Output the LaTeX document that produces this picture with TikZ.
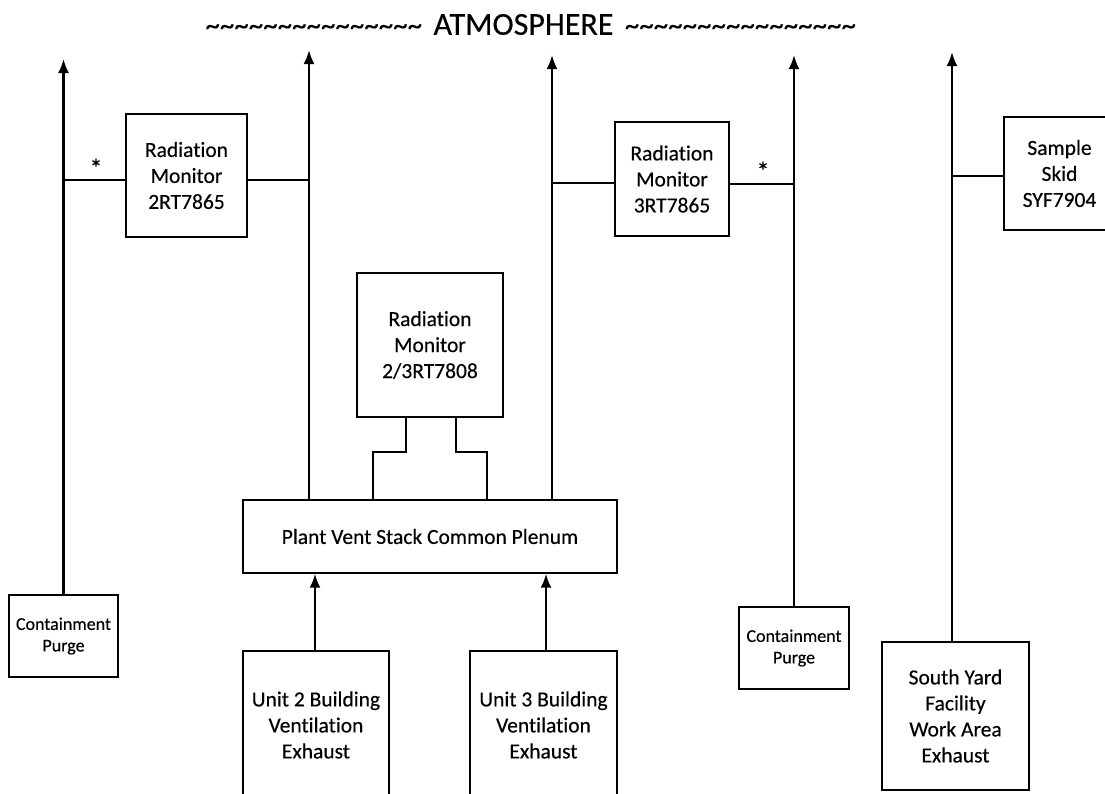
\documentclass[tikz,border=0pt]{standalone}
\usepackage{fontspec}
\setmainfont{Carlito}[FakeBold=0.3,Ligatures={NoCommon}]
\usetikzlibrary{arrows.meta}
\newcommand{\tildesrep}[1]{\foreach \i in {1,...,#1}{\textasciitilde}}
\begin{document}
\begin{tikzpicture}[x=1pt,y=-1pt,
  box/.style={draw,line width=1.4pt,rectangle,inner sep=0pt,align=center,font=\fontsize{21.5}{26}\selectfont},
  smallbox/.style={box,font=\fontsize{18}{21.5}\selectfont},
  arr/.style={line width=2.3pt,-{Latex[length=14pt,width=11pt]}},
  ln/.style={line width=1.4pt},
  lnb/.style={line width=1.9pt},
  star/.style={inner sep=0pt,font=\fontsize{26}{26}\selectfont},
  ttl/.style={inner sep=0pt,font=\fontsize{32}{36}\selectfont},
  tld/.style={inner sep=0pt,font=\fontsize{29}{32}\selectfont}
  ]
\useasboundingbox (0,0) rectangle (1105,793);
\fill[white] (0,0) rectangle (1105,793);

% title
\node[ttl] (tatm) at (523.5,24.5) {ATMOSPHERE};
\node[tld,anchor=base east] (tl) at ([xshift=-11pt]tatm.base west) {\tildesrep{15}};
\node[tld,anchor=base west] (tr) at ([xshift=11pt]tatm.base east) {\tildesrep{16}};

% boxes
\node[box,minimum width=121pt,minimum height=123pt] (rm2) at (186.5,175.5) {Radiation\\Monitor\\2RT7865};
\node[box,minimum width=114pt,minimum height=114pt] (rm3) at (672,179) {Radiation\\Monitor\\3RT7865};
\node[box,minimum width=111pt,minimum height=113pt] (ss) at (1059.5,173.5) {Sample\\Skid\\SYF7904};
\node[box,minimum width=146pt,minimum height=144pt] (rm23) at (430,345) {Radiation\\Monitor\\2/3RT7808};
\node[box,minimum width=374pt,minimum height=73pt] (pl) at (430,536.5) {Plant Vent Stack Common Plenum};
\node[smallbox,minimum width=109pt,minimum height=82pt] (cp1) at (63.5,636) {Containment\\Purge};
\node[smallbox,minimum width=110pt,minimum height=82pt] (cp2) at (794,648) {Containment\\Purge};
\node[box,minimum width=146pt,minimum height=148pt] (u2) at (316,725) {Unit 2 Building\\Ventilation\\Exhaust};
\node[box,minimum width=147pt,minimum height=148pt] (u3) at (543.5,725) {Unit 3 Building\\Ventilation\\Exhaust};
\node[box,minimum width=147pt,minimum height=148pt] (sy) at (955.5,716) {South Yard\\Facility\\Work Area\\Exhaust};

% arrows to atmosphere
\coordinate (t1) at (63.5,59);
\coordinate (t2) at (309,50);
\coordinate (t3) at (552,55);
\coordinate (t4) at (794,55);
\coordinate (t5) at (952,52);
\draw[arr] (cp1.north) -- (t1);
\draw[arr] (t2 |- pl.north) -- (t2);
\draw[arr] (t3 |- pl.north) -- (t3);
\draw[arr] (cp2.north) -- (t4);
\draw[arr] (t5 |- sy.north) -- (t5);

% monitor branches
\coordinate (j1) at (63.5,180);
\coordinate (j3) at (552,183);
\coordinate (j4) at (794,184);
\coordinate (j5) at (952,176);
\draw[lnb] (j1) -- (j1 -| rm2.west);
\draw[ln] (rm2.east |- j1) -- (j1 -| t2);
\draw[ln] (j3) -- (j3 -| rm3.west);
\draw[ln] (rm3.east |- j4) -- (j4);
\draw[ln] (j5) -- (j5 -| ss.west);
\node[star] (s1) at (96,168) {*};
\node[star] (s2) at (763,171) {*};

% exhaust into plenum
\draw[arr] ([xshift=-1pt]u2.north) -- ([xshift=-1pt]u2.north |- pl.south);
\draw[arr] ([xshift=2.5pt]u3.north) -- ([xshift=2.5pt]u3.north |- pl.south);

% sample lines to 2/3RT7808
\draw[lnb] ([xshift=-24pt]rm23.south) -- ++(0,34) -| ([xshift=-57pt]pl.north);
\draw[lnb] ([xshift=26pt]rm23.south) -- ++(0,34) -| ([xshift=57pt]pl.north);
\end{tikzpicture}
\end{document}
